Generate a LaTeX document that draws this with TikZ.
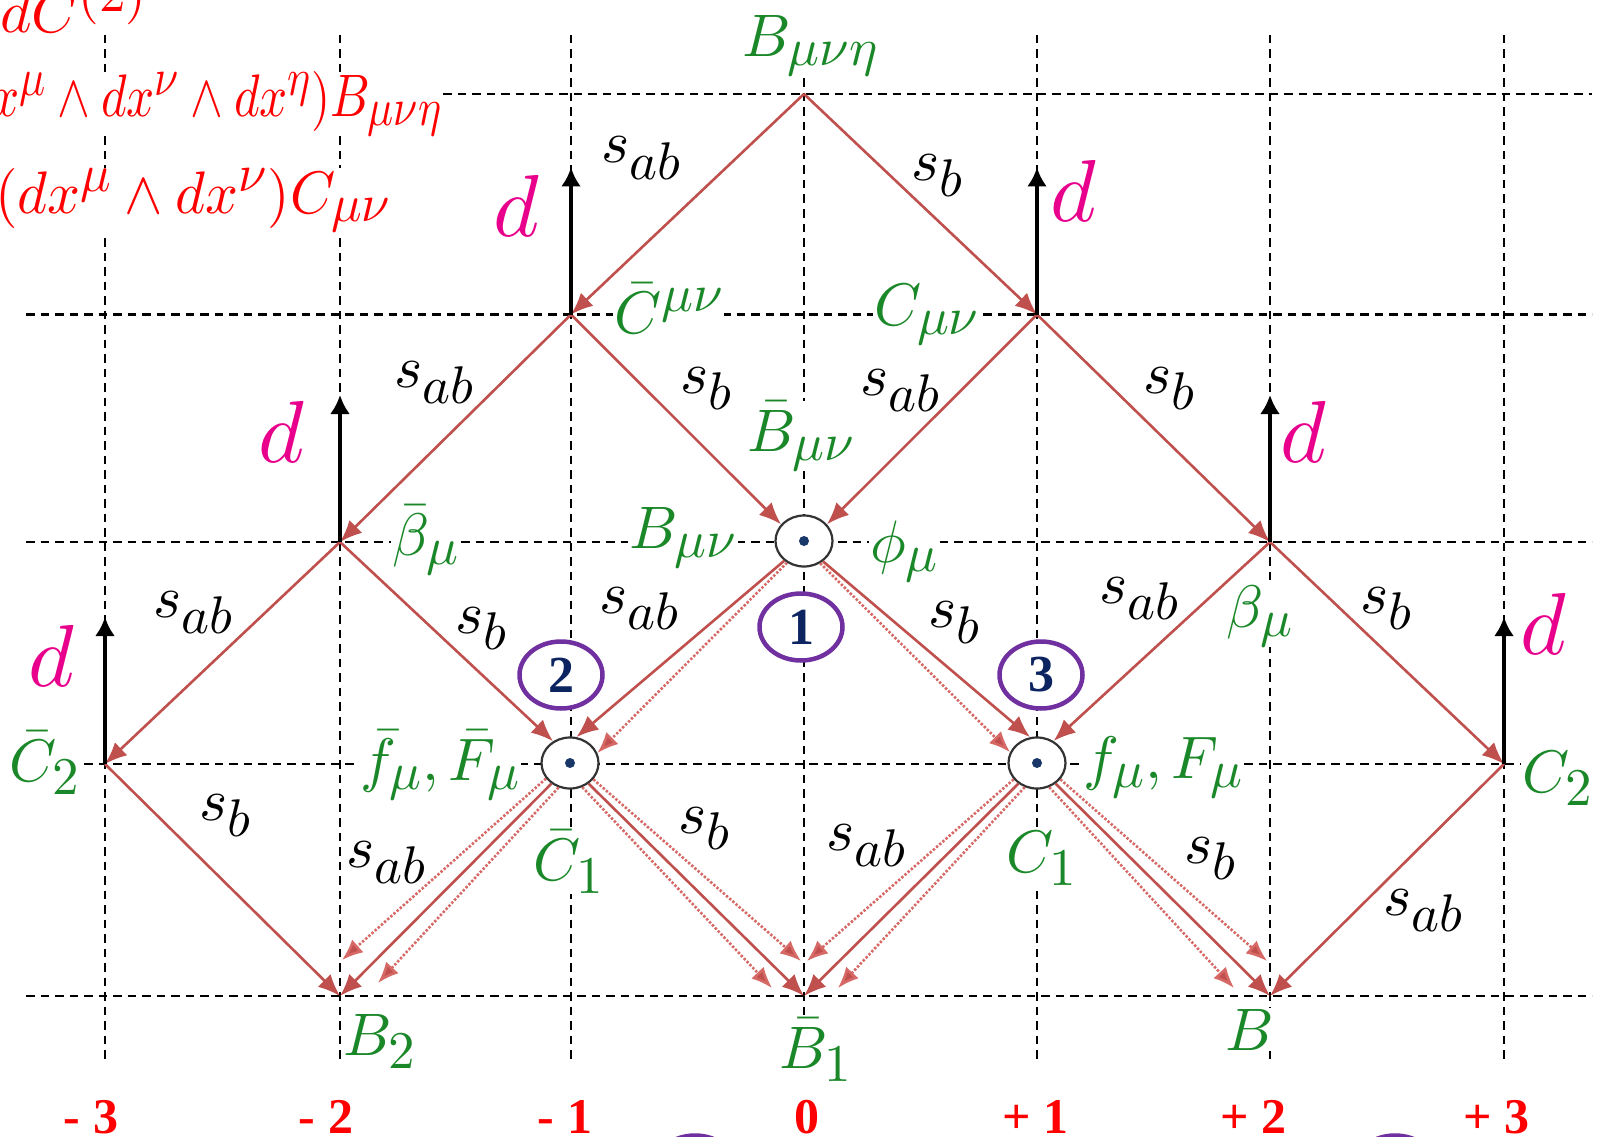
\documentclass[tikz,border=0pt]{standalone}
\usepackage{graphicx}
\usepackage{fontspec}
\usetikzlibrary{arrows.meta,shapes.geometric}
\newfontfamily\numfont{Liberation Serif}
\DeclareFontShape{OT1}{cmr}{m}{n}{<->cmr10}{}
\DeclareFontShape{OML}{cmm}{m}{it}{<->cmmi10}{}
\DeclareFontShape{OMS}{cmsy}{m}{n}{<->cmsy10}{}
\DeclareFontShape{OMX}{cmex}{m}{n}{<->cmex10}{}
\DeclareMathSizes{60}{60}{53}{42}
\DeclareMathSizes{88}{88}{70}{56}
\definecolor{lblgreen}{RGB}{26,136,40}
\definecolor{dmag}{RGB}{232,0,140}
\definecolor{edgered}{RGB}{192,80,77}
\definecolor{dotred}{RGB}{214,104,102}
\definecolor{ellpurple}{RGB}{112,48,160}
\definecolor{numnavy}{RGB}{12,36,96}
\definecolor{hubdot}{RGB}{25,55,105}
\begin{document}
\begin{tikzpicture}[x=1pt,y=-1pt,
  gridline/.style={black, line width=2.2pt, dash pattern=on 8.5pt off 6pt},
  lbl/.style={text=lblgreen, fill=white, inner sep=1pt, font=\fontsize{60}{72}\selectfont},
  slbl/.style={inner sep=0pt, font=\fontsize{60}{72}\selectfont},
  dlbl/.style={text=dmag, inner sep=0pt, font=\fontsize{88}{100}\selectfont},
  formula/.style={text=red, fill=white, inner sep=0pt, font=\fontsize{60}{72}\selectfont},
  redarr/.style={draw=edgered, line width=2.6pt, -{Latex[length=22pt,width=18pt]}},
  dotarr/.style={draw=dotred, line width=2.6pt, dash pattern=on 2.4pt off 1.8pt, -{Latex[length=21pt,width=17pt,fill=edgered]}},
  darr/.style={draw=black, line width=4.5pt, -{Latex[length=19pt,width=20pt]}},
  hub/.style={ellipse, draw=black!80, line width=2.2pt, fill=white, minimum width=57pt, minimum height=51pt, inner sep=0pt},
  numell/.style={ellipse, draw=ellpurple, line width=4.5pt, fill=white, minimum width=83pt, minimum height=67pt, inner sep=0pt, text=numnavy, font=\fontsize{52}{56}\numfont\bfseries},
  axnum/.style={text=red, inner sep=0pt, font=\fontsize{50}{56}\numfont\bfseries}
]
\useasboundingbox (0,0) rectangle (1607,1137);
\clip (0,0) rectangle (1607,1137);
\fill[white] (0,0) rectangle (1607,1137);

% grid
\foreach \gx in {105,340,571,804,1037,1270,1504}
  \draw[gridline] (\gx,35) -- (\gx,1063);
\draw[gridline] (443,94) -- (1592,94);
\foreach \gy in {314.5,542,764,996}
  \draw[gridline] (26,\gy) -- (1592,\gy);

% formulas (cut at the left edge)
\node[formula, anchor=base east] (fa) at (147,33) {$dC^{(2)}$};
\node[formula, anchor=base east] (fb2) at (442,117) {\scalebox{0.82}[1]{$x^\mu\wedge dx^\nu\wedge dx^\eta)B_{\mu\nu\eta}$}};
\node[formula, anchor=base east] (fc) at (391,213) {\scalebox{0.96}[1]{$(dx^\mu\wedge dx^\nu)C_{\mu\nu}$}};

% grid points
\coordinate (T) at (804,94);
\coordinate (CbMN) at (571,314.5);
\coordinate (CMN) at (1037,314.5);
\coordinate (btb) at (340,542);
\coordinate (bt) at (1270,542);
\coordinate (C2b) at (105,764);
\coordinate (C2) at (1504,764);
\coordinate (B2) at (340,996);
\coordinate (B1b) at (804,996);
\coordinate (B) at (1270,996);
% ends of the dotted arrows
\coordinate (B2dA) at (342,960);
\coordinate (B2dB) at (378,983);
\coordinate (B1dA) at (801,961);
\coordinate (B1dB) at (772,988);
\coordinate (B1dC) at (807,961);
\coordinate (B1dD) at (838,988);
\coordinate (BdA) at (1267,961);
\coordinate (BdB) at (1234,988);
% tops of the d arrows
\coordinate (dCbMN) at (571,167.5);
\coordinate (dCMN) at (1037,167.5);
\coordinate (dbtb) at (340,395);
\coordinate (dbt) at (1270,395);
\coordinate (dC2b) at (105,617);
\coordinate (dC2) at (1504,617);

% green labels
\node[lbl, anchor=base west] (lT) at (741,57) {$B_{\mu\nu\eta}$};
\node[lbl, anchor=base west] (lCbMN) at (613,333) {$\bar C^{\mu\nu}$};
\node[lbl, anchor=base west] (lCMN) at (873,325) {$C_{\mu\nu}$};
\node[lbl, anchor=base west] (lBbMN) at (746,451) {$\bar B_{\mu\nu}$};
\node[lbl, anchor=base west] (lBMN) at (628,548) {$B_{\mu\nu}$};
\node[lbl, anchor=base west] (lphi) at (869,562) {$\phi_\mu$};
\node[lbl, anchor=base west] (lbtb) at (391,555) {$\bar\beta_\mu$};
\node[lbl, anchor=base west] (lbt) at (1225,627) {$\beta_\mu$};
\node[lbl, anchor=base west] (lC2b) at (8,781) {$\bar C_2$};
\node[lbl, anchor=base east] (lfb) at (521,780) {$\bar f_\mu,\bar F_\mu$};
\node[lbl, anchor=base west] (lC1b) at (532,880) {$\bar C_1$};
\node[lbl, anchor=base east] (lf) at (1244,778) {$f_\mu,F_\mu$};
\node[lbl, anchor=base west] (lC1) at (1005,872) {$C_1$};
\node[lbl, anchor=base west] (lC2) at (1521,792) {$C_2$};
\node[lbl, anchor=base west] (lB2) at (342,1055) {$B_2$};
\node[lbl, anchor=base west] (lB1b) at (778,1068) {$\bar B_1$};
\node[lbl, anchor=base west] (lB) at (1224,1050) {$B$};

% numbered ellipses
\node[numell] (n1) at (801,627) {1};
\node[numell] (n2) at (561,675) {2};
\node[numell] (n3) at (1041,675) {3};
\node[numell] (n4) at (695,1169) {};
\node[numell] (n5) at (1395,1169) {};

% hubs
\node[hub] (ctr) at (804,541) {};
\node[hub] (fbar) at (570,763) {};
\node[hub] (f) at (1037,763) {};

% red arrows
\draw[redarr] (T) -- (CbMN);
\draw[redarr] (T) -- (CMN);
\draw[redarr] (CbMN) -- (btb);
\draw[redarr] (CbMN) -- (ctr.144);
\draw[redarr] (CMN) -- (ctr.36);
\draw[redarr] (CMN) -- (bt);
\draw[redarr] (btb) -- (C2b);
\draw[redarr] (btb) -- (fbar.128);
\draw[redarr] (bt) -- (f.53);
\draw[redarr] (bt) -- (C2);
\draw[redarr] (ctr.225) -- (fbar.76);
\draw[redarr] (ctr.313) -- (f.105);
\draw[dotarr] (ctr.232) -- (fbar.20);
\draw[dotarr] (ctr.306) -- (f.158);
\draw[redarr] (C2b) -- (B2);
\draw[redarr] (C2) -- (B);
\draw[redarr] (fbar.228) -- (B2);
\draw[dotarr] (fbar.213) -- (B2dA);
\draw[dotarr] (fbar.245) -- (B2dB);
\draw[redarr] (fbar.312) -- (B1b);
\draw[dotarr] (fbar.325) -- (B1dA);
\draw[dotarr] (fbar.297) -- (B1dB);
\draw[redarr] (f.228) -- (B1b);
\draw[dotarr] (f.215) -- (B1dC);
\draw[dotarr] (f.243) -- (B1dD);
\draw[redarr] (f.312) -- (B);
\draw[dotarr] (f.325) -- (BdA);
\draw[dotarr] (f.297) -- (BdB);

% hub dots
\foreach \h in {ctr,fbar,f}
  \fill[hubdot] (\h.center) circle[radius=5pt];

% d arrows
\draw[darr] (CbMN) -- (dCbMN);
\draw[darr] (CMN) -- (dCMN);
\draw[darr] (btb) -- (dbtb);
\draw[darr] (bt) -- (dbt);
\draw[darr] (C2b) -- (dC2b);
\draw[darr] (C2) -- (dC2);

% d labels
\node[dlbl, anchor=base west] (d1) at (493,236) {$d$};
\node[dlbl, anchor=base west] (d2) at (1050,222) {$d$};
\node[dlbl, anchor=base west] (d3) at (258,462) {$d$};
\node[dlbl, anchor=base west] (d4) at (1280,462) {$d$};
\node[dlbl, anchor=base west] (d5) at (28,686) {$d$};
\node[dlbl, anchor=base west] (d6) at (1520,654) {$d$};

% s labels
\node[slbl, anchor=base west] (s1) at (601,163) {$s_{ab}$};
\node[slbl, anchor=base west] (s2) at (911,180) {$s_b$};
\node[slbl, anchor=base west] (s3) at (394,387) {$s_{ab}$};
\node[slbl, anchor=base west] (s4) at (680,393) {$s_b$};
\node[slbl, anchor=base west] (s5) at (860,395) {$s_{ab}$};
\node[slbl, anchor=base west] (s6) at (1143,393) {$s_b$};
\node[slbl, anchor=base west] (s7) at (153,617) {$s_{ab}$};
\node[slbl, anchor=base west] (s8) at (455,633) {$s_b$};
\node[slbl, anchor=base west] (s9) at (599,613) {$s_{ab}$};
\node[slbl, anchor=base west] (s10) at (928,627) {$s_b$};
\node[slbl, anchor=base west] (s11) at (1099,603) {$s_{ab}$};
\node[slbl, anchor=base west] (s12) at (1360,613) {$s_b$};
\node[slbl, anchor=base west] (s13) at (199,820) {$s_b$};
\node[slbl, anchor=base west] (s14) at (346,867) {$s_{ab}$};
\node[slbl, anchor=base west] (s15) at (678,833) {$s_b$};
\node[slbl, anchor=base west] (s16) at (826,850) {$s_{ab}$};
\node[slbl, anchor=base west] (s17) at (1184,863) {$s_b$};
\node[slbl, anchor=base west] (s18) at (1383,915) {$s_{ab}$};

% axis numbers
\node[axnum, anchor=base] (a1) at (91,1133) {- 3};
\node[axnum, anchor=base] (a2) at (326,1133) {- 2};
\node[axnum, anchor=base] (a3) at (565,1133) {- 1};
\node[axnum, anchor=base] (a4) at (807,1133) {0};
\node[axnum, anchor=base] (a5) at (1035,1133) {+ 1};
\node[axnum, anchor=base] (a6) at (1253,1133) {+ 2};
\node[axnum, anchor=base] (a7) at (1496,1133) {+ 3};
\end{tikzpicture}
\end{document}
